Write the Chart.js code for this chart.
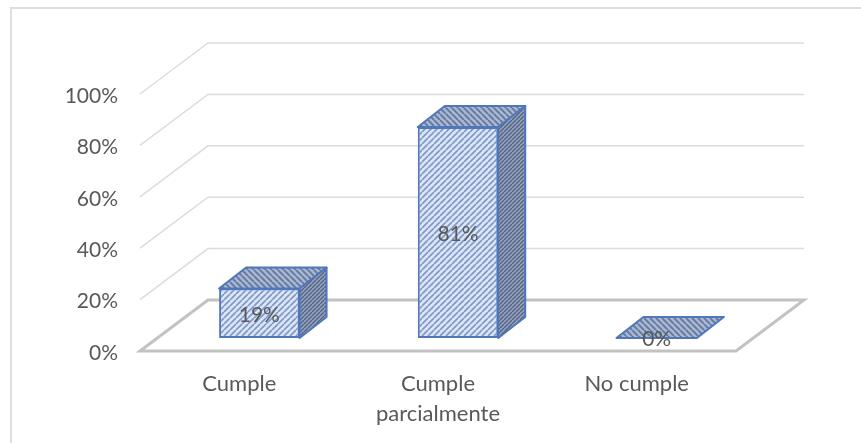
<!DOCTYPE html>
<html>
<head>
<meta charset="utf-8">
<style>
  html, body { margin: 0; padding: 0; background: #fff; }
  #wrap { width: 861px; height: 443px; }
</style>
<script src="https://cdn.jsdelivr.net/npm/chart.js@4"></script>
</head>
<body>
<div id="wrap"><canvas id="chart" width="861" height="443"></canvas></div>
<script>
const categories = [['Cumple'], ['Cumple', 'parcialmente'], ['No cumple']];
const values = [19, 81, 0];
const tickValues = [0, 20, 40, 60, 80, 100];

// 3D look of the office chart, all in pixels
const wallDepth = { x: 68, y: 51 };
const barShift = 20;
const barDepth = { x: 27, y: 21 };

const textColor = '#595959';
const fontFamily = "Lato, 'Open Sans', sans-serif";

function makePattern(bg, line, size, width, dir) {
    const c = document.createElement('canvas');
    c.width = size;
    c.height = size;
    const g = c.getContext('2d');
    g.fillStyle = bg;
    g.fillRect(0, 0, size, size);
    g.strokeStyle = line;
    g.lineWidth = width;
    g.beginPath();
    for (let i = -size; i <= size * 2; i += size) {
        if (dir > 0) {
            g.moveTo(i, size);
            g.lineTo(i + size, 0);
        } else {
            g.moveTo(i, 0);
            g.lineTo(i + size, size);
        }
    }
    g.stroke();
    return g.createPattern(c, 'repeat');
}

const ctxMain = document.getElementById('chart').getContext('2d');
const frontFill = makePattern('#dbe5f8', '#8298c6', 6, 1.7, 1);
const topFill = makePattern('#adb6ca', '#5c79aa', 6, 1.8, -1);
const sideFill = makePattern('#98a3ba', '#4f6488', 4, 1.4, 1);
const edgeColor = '#4f77ba';

const walls = {
    id: 'walls',
    beforeDatasetsDraw(chart) {
        const { ctx, chartArea: a, scales } = chart;
        ctx.save();
        // outer frame, only top and left are on the picture
        ctx.strokeStyle = '#dedede';
        ctx.lineWidth = 2;
        ctx.beginPath();
        ctx.moveTo(11, 443);
        ctx.lineTo(11, 8);
        ctx.lineTo(861, 8);
        ctx.stroke();

        ctx.strokeStyle = '#dcdcdc';
        ctx.lineWidth = 1.5;
        tickValues.forEach(v => {
            if (v === 0) return;
            const y = scales.y.getPixelForValue(v);
            ctx.beginPath();
            ctx.moveTo(a.left, y);
            ctx.lineTo(a.left + wallDepth.x, y - wallDepth.y);
            ctx.lineTo(a.right + wallDepth.x, y - wallDepth.y);
            ctx.stroke();
        });

        // floor
        const y0 = scales.y.getPixelForValue(0);
        ctx.strokeStyle = '#c2c2c2';
        ctx.lineWidth = 3;
        ctx.lineJoin = 'miter';
        ctx.beginPath();
        ctx.moveTo(a.left, y0);
        ctx.lineTo(a.right, y0);
        ctx.lineTo(a.right + wallDepth.x, y0 - wallDepth.y);
        ctx.lineTo(a.left + wallDepth.x, y0 - wallDepth.y);
        ctx.closePath();
        ctx.stroke();
        ctx.restore();
    },
    beforeDatasetDraw(chart) {
        chart.ctx.save();
        chart.ctx.translate(barShift, 0);
    },
    afterDatasetDraw(chart) {
        const ctx = chart.ctx;
        chart.getDatasetMeta(0).data.forEach((bar) => {
            const l = bar.x - bar.width / 2;
            const r = bar.x + bar.width / 2;
            const t = bar.y;
            const b = bar.base;
            ctx.lineWidth = 2;
            ctx.lineJoin = 'round';
            ctx.strokeStyle = edgeColor;
            // top face
            ctx.fillStyle = topFill;
            ctx.beginPath();
            ctx.moveTo(l, t);
            ctx.lineTo(r, t);
            ctx.lineTo(r + barDepth.x, t - barDepth.y);
            ctx.lineTo(l + barDepth.x, t - barDepth.y);
            ctx.closePath();
            ctx.fill();
            ctx.stroke();
            // side face
            if (b - t > 1) {
                ctx.fillStyle = sideFill;
                ctx.beginPath();
                ctx.moveTo(r, t);
                ctx.lineTo(r + barDepth.x, t - barDepth.y);
                ctx.lineTo(r + barDepth.x, b - barDepth.y);
                ctx.lineTo(r, b);
                ctx.closePath();
                ctx.fill();
                ctx.stroke();
            }
        });
        ctx.restore();

        // data labels go on top of the faces
        ctx.save();
        ctx.font = '21px ' + fontFamily;
        ctx.fillStyle = textColor;
        ctx.textAlign = 'center';
        ctx.textBaseline = 'middle';
        chart.getDatasetMeta(0).data.forEach((bar, i) => {
            const y = values[i] === 0 ? bar.y + 1 : (bar.y + bar.base) / 2 + 2;
            ctx.fillText(values[i] + '%', bar.x + barShift, y);
        });
        ctx.restore();
    }
};

new Chart(ctxMain, {
    type: 'bar',
    data: {
        labels: categories,
        datasets: [{
            data: values,
            yAxisID: 'yBars',
            backgroundColor: frontFill,
            borderColor: edgeColor,
            borderWidth: 2,
            borderSkipped: false,
            barPercentage: 0.405,
            categoryPercentage: 1,
            clip: false
        }]
    },
    options: {
        responsive: false,
        animation: false,
        layout: { padding: { left: 0, top: 94, right: 125, bottom: 0 } },
        plugins: { legend: { display: false }, tooltip: { enabled: false } },
        scales: {
            x: {
                grid: { display: false },
                border: { display: false },
                afterFit: (s) => { s.height = 92; },
                ticks: {
                    color: textColor,
                    padding: 10,
                    font: { family: fontFamily, size: 22, lineHeight: 1.36 },
                    maxRotation: 0,
                    autoSkip: false
                }
            },
            y: {
                min: 0,
                max: 100,
                grid: { display: false },
                border: { display: false },
                afterFit: (s) => { s.width = 140; },
                afterBuildTicks: (s) => { s.ticks = tickValues.map(v => ({ value: v })); },
                ticks: {
                    color: textColor,
                    padding: 14,
                    labelOffset: 2,
                    font: { family: fontFamily, size: 21 },
                    callback: (v) => v + '%'
                }
            },
            // same plot height, floor of the bars sits 13px into the depth
            yBars: { display: false, min: -5, max: 93.7 }
        }
    },
    plugins: [walls]
});
</script>
</body>
</html>
